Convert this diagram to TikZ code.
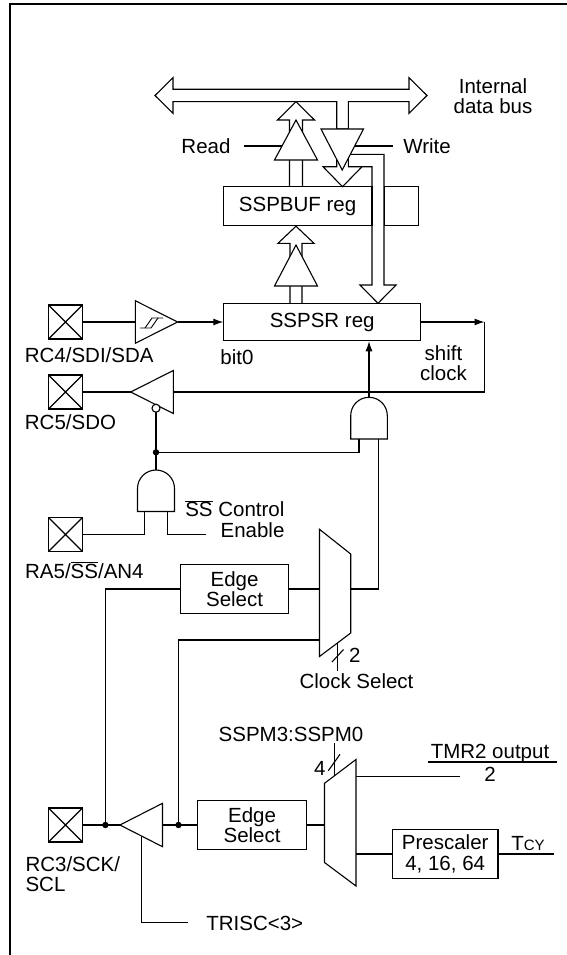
\documentclass[tikz,border=0pt]{standalone}
\usepackage{fontspec}
\setmainfont{Liberation Sans}
\usepackage{tikz}
\usetikzlibrary{arrows.meta}

\begin{document}
\begin{tikzpicture}[x=1pt,y=-1pt,line width=1.1pt,>={Latex[length=10pt,width=7pt]},
                    font=\fontsize{20.5}{20.5}\selectfont]
  \tikzstyle{reg}=[draw,inner sep=0pt,align=center]
  \tikzstyle{lbl}=[inner sep=0pt]
  \tikzstyle{gate}=[draw,fill=white]
  \tikzstyle{iopin}=[draw,minimum size=34pt,inner sep=0pt,
      path picture={\draw (path picture bounding box.north west) -- (path picture bounding box.south east)
                          (path picture bounding box.south west) -- (path picture bounding box.north east);}]

  \useasboundingbox (0,0) rectangle (566,955);
  \draw[line width=2.5pt] (10,962) -- (10,4) -- (572,4);

  % internal data bus, read and write paths
  \draw[gate] (155,95.5) -- (173,77.7) -- (173,89.3) -- (409,89.3) -- (409,77.7) -- (427,95.5)
        -- (409,113.3) -- (409,101.7) -- (348.3,101.7) -- (348.3,129) -- (336.7,129)
        -- (336.7,101.7) -- (173,101.7) -- (173,113.3) -- cycle;
  \draw (336.7,129) -- (336.7,166.7) -- (323,166.7) -- (342.5,186.7) -- (362,166.7);
  \draw (348.3,129) -- (348.3,166.7) -- (372,166.7) -- (372,285) -- (360,285) -- (378,303.3)
        -- (396,285) -- (384,285) -- (384,154.3) -- (348,154.3);
  \draw[gate] (321,129) -- (363.5,129) -- (342.2,170) -- cycle;
  \draw[gate] (289.5,186.7) -- (289.5,120) -- (277.5,120) -- (296,101.7) -- (314.5,120)
        -- (302.5,120) -- (302.5,186.7);
  \draw[gate] (296,120) -- (317.5,160) -- (274.5,160) -- cycle;
  \draw[gate] (290,303.3) -- (290,243.3) -- (278,243.3) -- (296,226.2) -- (314,243.3)
        -- (302,243.3) -- (302,303.3);
  \draw[gate] (296,245) -- (317.5,286) -- (274.5,286) -- cycle;

  \node[lbl,align=center] (busname) at (493,96) {Internal\\data bus};
  \node[lbl,anchor=base] (read) at (206,153.3) {Read};
  \node[lbl,anchor=base] (write) at (427,153.3) {Write};
  \coordinate (readln) at (244,146);
  \coordinate (readen) at (282,146);
  \coordinate (writeen) at (354.7,146);
  \coordinate (writeln) at (393,146);
  \draw (readln) -- (readen);
  \draw (writeen) -- (writeln);

  \node[reg,minimum width=148.7pt,minimum height=39pt] (sspbuf) at (297.6,206.2) {SSPBUF reg};
  \node[reg,minimum width=34.3pt,minimum height=39pt] (spare) at (401.2,206.2) {};
  \node[reg,minimum width=196.8pt,minimum height=37.4pt] (sspsr) at (322.2,322) {SSPSR reg};

  % SDI input with schmitt buffer
  \node[iopin] (rcfour) at (65.5,322) {};
  \node[lbl,anchor=base] (rcfourlbl) at (89.2,362.3) {RC4/SDI/SDA};
  \coordinate (sdiin) at (135.4,322);
  \coordinate (sdiout) at (177.6,322);
  \draw[gate] (135.4,300.8) -- (177.6,322) -- (135.4,343.2) -- cycle;
  \draw[line width=0.9pt] (140,328) -- (151,328) -- (158,318) -- (163,318);
  \draw[line width=0.9pt] (145,328) -- (152,318) -- (158,318);
  \draw (rcfour) -- (sdiin);
  \draw[->] (sdiout) -- (sspsr);
  \node[lbl,anchor=base] (bitzero) at (237,364) {bit0};

  % SDO output
  \node[lbl,align=center] (shiftclk) at (443.5,363) {shift\\clock};
  \node[iopin] (rcfive) at (65.5,392) {};
  \node[lbl,anchor=base] (rcfivelbl) at (70.5,429.6) {RC5/SDO};
  \coordinate (shiftcorner) at (484.5,322);
  \coordinate (sdoin) at (173.3,392);
  \coordinate (sdoout) at (130.7,392);
  \coordinate (sdoen) at (156,412.2);
  \draw[gate] (130.7,392) -- (173.3,370.5) -- (173.3,413.5) -- cycle;
  \draw[gate] (156,408.2) circle[radius=4];
  \draw[->] (sspsr.east) -- (shiftcorner);
  \draw (shiftcorner) |- (sdoin);
  \draw (sdoout) -- (rcfive);

  % shift clock gate
  \coordinate (andout) at (369,397.3);
  \coordinate (andina) at (359,439);
  \coordinate (andinb) at (378.3,439);
  \draw[gate] (350.7,439) -- (350.7,415.6) arc[start angle=180,end angle=360,radius=18.3]
        -- (387.3,439) -- cycle;
  \draw[->] (andout) -- (andout |- sspsr.south);

  % SS control
  \coordinate (ssout) at (156,470);
  \coordinate (ssina) at (144.5,511.5);
  \coordinate (ssinb) at (167.5,511.5);
  \coordinate (ssctl) at (205.8,534.5);
  \coordinate (sdojoin) at (156,452.3);
  \draw[gate] (137.5,511.5) -- (137.5,488.5) arc[start angle=180,end angle=360,radius=18.5]
        -- (174.5,511.5) -- cycle;
  \draw (sdoen) -- (ssout);
  \fill (sdojoin) circle[radius=3.2];
  \draw (sdojoin) -| (andina);
  \node[iopin] (rafive) at (65.5,534.5) {};
  \node[lbl,anchor=base] (rafivelbl) at (84.4,578.3) {RA5/$\overline{\mbox{SS}}$/AN4};
  \node[lbl,align=right,anchor=east] (ssctllbl) at (285,519) {$\overline{\mbox{SS}}$ Control\\Enable};
  \draw (ssina) |- (rafive);
  \draw (ssinb) |- (ssctl);

  % clock select mux
  \node[reg,minimum width=108.3pt,minimum height=49.4pt] (edgeA) at (234.6,589) {Edge\\Select};
  \coordinate (muxaina) at (319.5,589);
  \coordinate (muxainb) at (319.5,640);
  \coordinate (muxaout) at (350.7,589);
  \coordinate (muxasel) at (337.7,642.8);
  \coordinate (clksel) at (337.7,671);
  \draw[gate] (319.5,529.3) -- (350.7,554) -- (350.7,633) -- (319.5,656.5) -- cycle;
  \draw (edgeA) -- (muxaina);
  \draw (andinb) |- (muxaout);
  \draw (muxasel) -- (clksel);
  \draw (332,662) -- (343.5,649.5);
  \node[lbl,anchor=base] (selbits) at (354.7,662.3) {2};
  \node[lbl,anchor=base] (clkseltxt) at (356.5,688) {Clock Select};

  % SCK pin
  \node[iopin] (rcthree) at (65.5,825) {};
  \node[lbl,anchor=base west] (rcthreelbl) at (25,871.6) {RC3/SCK/};
  \node[lbl,anchor=base west] (scllbl) at (25,891.6) {SCL};
  \coordinate (sckjoin) at (105.4,825);
  \coordinate (edgejoin) at (178.5,825);
  \coordinate (sckout) at (119.9,825);
  \coordinate (sckin) at (162.5,825);
  \coordinate (scken) at (141.9,836.2);
  \coordinate (trisc) at (188.4,922.3);
  \draw[gate] (119.9,825) -- (162.5,803.3) -- (162.5,846.7) -- cycle;
  \draw (rcthree) -- (sckout);
  \fill (sckjoin) circle[radius=3.2];
  \draw (edgeA.west) -| (sckjoin);
  \node[reg,minimum width=108.6pt,minimum height=49.3pt] (edgeB) at (252.1,825) {Edge\\Select};
  \draw (sckin) -- (edgeB);
  \fill (edgejoin) circle[radius=3.2];
  \draw (muxainb) -| (edgejoin);
  \draw (scken) |- (trisc);
  \node[lbl,anchor=base west] (trisclbl) at (205.8,930.6) {TRISC<3>};

  % mode mux
  \coordinate (muxbina) at (324.5,825);
  \coordinate (muxbout) at (356,854);
  \coordinate (muxbtmr) at (356,776.7);
  \coordinate (tmrend) at (460,776.7);
  \coordinate (muxbsel) at (334.3,775.9);
  \coordinate (sspmsel) at (334.3,743.3);
  \coordinate (tcyend) at (554.2,854);
  \draw[gate] (324.5,783.3) -- (356,759.5) -- (356,886) -- (324.5,862.5) -- cycle;
  \draw (edgeB) -- (muxbina);
  \draw (sspmsel) -- (muxbsel);
  \draw (328.3,770.7) -- (340,754.3);
  \node[lbl,anchor=base] (sspmlbl) at (291,741.6) {SSPM3:SSPM0};
  \node[lbl,anchor=base] (modebits) at (319.7,775.6) {4};
  \draw (muxbtmr) -- (tmrend);
  \node[lbl,anchor=base] (tmrlbl) at (490,758.5) {TMR2 output};
  \node[lbl,anchor=base] (tmrtwo) at (490,781.3) {2};
  \draw (428.3,762) -- (557.3,762);
  \node[reg,minimum width=105.5pt,minimum height=49.8pt] (presc) at (445.2,854) {Prescaler\\4, 16, 64};
  \draw (muxbout) -- (presc);
  \draw (presc) -- (tcyend);
  \node[lbl,anchor=base] (tcy) at (528,850.6) {T{\fontsize{15}{15}\selectfont CY}};
\end{tikzpicture}
\end{document}
